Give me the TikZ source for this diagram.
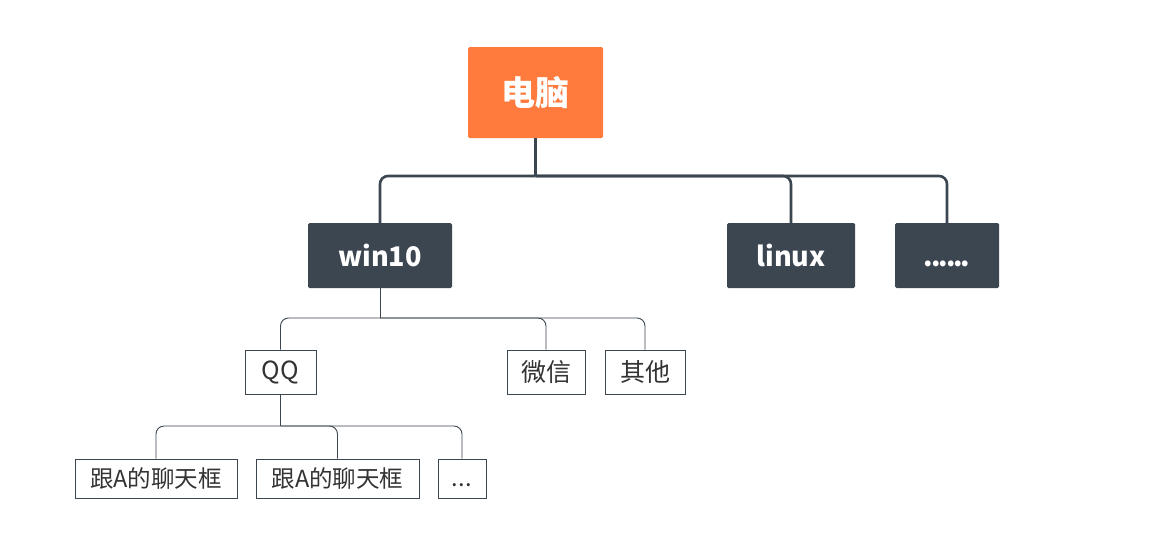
\documentclass[tikz,border=0pt]{standalone}
\usepackage{fontspec}
\setmainfont{Noto Sans CJK SC}
\definecolor{orangeC}{HTML}{FE7A3D}
\definecolor{darkC}{HTML}{3B4650}
\definecolor{txtC}{HTML}{333333}
\newcommand{\pdot}{.\kern0.6pt}
\newcommand{\qdot}{.\kern-2pt}
\tikzset{
  rootbox/.style={fill=orangeC, text=white, inner sep=0pt, rounded corners=1.5, font=\fontsize{34}{38}\selectfont\bfseries},
  osbox/.style={fill=darkC, text=white, inner sep=0pt, rounded corners=1.5, minimum height=65, font=\fontsize{27}{31}\selectfont\bfseries},
  leafbox/.style={draw=darkC, line width=0.9, fill=white, text=txtC, inner sep=0pt, font=\fontsize{25}{29}\selectfont},
  chatbox/.style={draw=darkC, line width=0.9, fill=white, text=txtC, inner sep=0pt, minimum height=39, font=\fontsize{23.5}{27}\selectfont},
  thick link/.style={draw=darkC, line width=2.6, rounded corners=8},
  thin link/.style={draw=darkC, line width=0.9, rounded corners=8},
}
\begin{document}
\begin{tikzpicture}[x=1pt,y=-1pt]
\useasboundingbox[fill=white] (0,0) rectangle (1165,558);
% level 0
\node[rootbox, minimum width=135, minimum height=91] (pc) at (535.5,92.5) {电脑};
% level 1
\node[osbox, minimum width=144] (win) at (380,255.5) {win10};
\node[osbox, minimum width=128] (lin) at (791,255.5) {linux};
\node[osbox, minimum width=104] (oth) at (947,255.5) {\vphantom{lin}\qdot\qdot\qdot\qdot\qdot.};
% level 2
\node[leafbox, minimum width=71, minimum height=44] (qq) at (280.5,372) {QQ};
\node[leafbox, minimum width=78, minimum height=44] (wx) at (546,372) {微信};
\node[leafbox, minimum width=80, minimum height=44] (qt) at (645,372) {其他};
% level 3
\node[chatbox, minimum width=162] (ca) at (156,478.5) {跟A的聊天框};
\node[chatbox, minimum width=163] (cb) at (337.5,478.5) {跟A的聊天框};
\node[chatbox, minimum width=48] (cc) at (462,478.5) {\vphantom{跟}\pdot\pdot.};
% connectors
\coordinate (j0) at (535.5,176);
\coordinate (j1) at (380,318);
\coordinate (j2) at (280.5,426);
\draw[thick link] (pc.south) -- (j0);
\draw[thick link] (j0) -| (win.north);
\draw[thick link] (j0) -| (lin.north);
\draw[thick link] (j0) -| (oth.north);
\draw[thin link] (win.south) -- (j1);
\draw[thin link] (j1) -| (qq.north);
\draw[thin link] (j1) -| (wx.north);
\draw[thin link] (j1) -| (qt.north);
\draw[thin link] (qq.south) -- (j2);
\draw[thin link] (j2) -| (ca.north);
\draw[thin link] (j2) -| (cb.north);
\draw[thin link] (j2) -| (cc.north);
\end{tikzpicture}
\end{document}
